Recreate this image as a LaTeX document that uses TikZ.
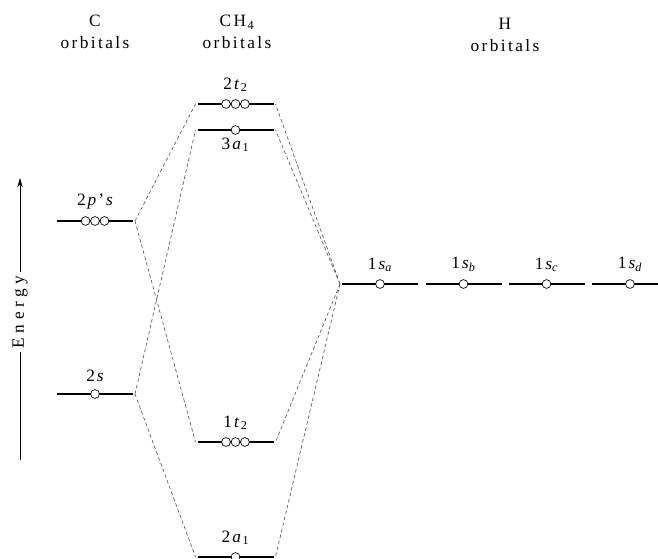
\documentclass[tikz,border=0pt]{standalone}
\usepackage{fontspec}
\setmainfont{Liberation Serif}
\usetikzlibrary{arrows.meta, positioning}
\newcommand{\gap}{\kern1.5pt}
\newcommand{\sub}[1]{\kern1.2pt\textsubscript{#1}}
\tikzset{
  mo level/.style={
    rectangle, fill=black, inner sep=0pt, outer sep=1.5pt,
    minimum width=57pt, minimum height=1.6pt
  },
  mo orb/.style={
    circle, draw=black, fill=white, line width=0.5pt,
    minimum size=6.6pt, inner sep=0pt
  },
  mo link/.style={
    draw=black!70, line width=0.45pt, dash pattern=on 2.6pt off 2pt
  },
  mo label/.style={
    font=\fontsize{13}{15}\selectfont, inner sep=1pt
  },
  mo head/.style={
    font=\fontsize{13}{16.5}\selectfont\addfontfeature{LetterSpace=14},
    align=center, inner sep=0pt
  },
  mo axis/.style={
    font=\fontsize{13}{15}\selectfont\addfontfeature{LetterSpace=26},
    inner sep=3pt
  }
}

\begin{document}
\begin{tikzpicture}[x=0.75pt, y=-0.75pt, node distance=5.5pt]
  \clip (0,0) rectangle (658,559);

  % column heads
  \node (hC) [mo head] at (95,32) {C\\orbitals};
  \node (hCH) [mo head] at (237,32) {CH\sub{4}\\orbitals};
  \node (hH) [mo head] at (505,35) {H\\orbitals};

  % energy axis
  \node (energy) [mo axis, rotate=90] at (20,312) {Energy};
  \coordinate (etop) at (20,178);
  \coordinate (ebot) at (20,460);
  \draw [line width=0.5pt] (ebot) -- (energy.west);
  \draw [line width=0.5pt, -{Stealth[length=7pt, width=4pt]}] (energy.east) -- (etop);

  % C levels
  \node (p2) [mo level] at (95,221) {};
  \node (p2-2) [mo orb] at (p2) {};
  \node (p2-1) [mo orb, left=0pt of p2-2] {};
  \node (p2-3) [mo orb, right=0pt of p2-2] {};
  \node (p2-lab) [mo label, above=of p2] {2\gap\textit{p}\gap'\gap\textit{s}};

  \node (s2) [mo level] at (95,394) {};
  \node (s2-1) [mo orb] at (s2) {};
  \node (s2-lab) [mo label, above=of s2] {2\gap\textit{s}};

  % CH4 levels
  \node (t2b) [mo level] at (235.5,104) {};
  \node (t2b-2) [mo orb] at (t2b) {};
  \node (t2b-1) [mo orb, left=0pt of t2b-2] {};
  \node (t2b-3) [mo orb, right=0pt of t2b-2] {};
  \node (t2b-lab) [mo label, above=of t2b] {2\gap\textit{t}\sub{2}};

  \node (a3) [mo level] at (235.5,130) {};
  \node (a3-1) [mo orb] at (a3) {};
  \node (a3-lab) [mo label, below=2.5pt of a3] {3\gap\textit{a}\sub{1}};

  \node (t1) [mo level] at (235.5,442) {};
  \node (t1-2) [mo orb] at (t1) {};
  \node (t1-1) [mo orb, left=0pt of t1-2] {};
  \node (t1-3) [mo orb, right=0pt of t1-2] {};
  \node (t1-lab) [mo label, above=of t1] {1\gap\textit{t}\sub{2}};

  \node (a2) [mo level] at (235.5,557) {};
  \node (a2-1) [mo orb] at (a2) {};
  \node (a2-lab) [mo label, above=of a2] {2\gap\textit{a}\sub{1}};

  % H levels
  \node (sa) [mo level] at (380,284) {};
  \node (sa-1) [mo orb] at (sa) {};
  \node (sa-lab) [mo label, above=of sa] {1\gap\textit{s}\textsubscript{\textit{a}}};

  \node (sb) [mo level] at (463.5,284) {};
  \node (sb-1) [mo orb] at (sb) {};
  \node (sb-lab) [mo label, above=of sb] {1\gap\textit{s}\textsubscript{\textit{b}}};

  \node (sc) [mo level] at (546.5,284) {};
  \node (sc-1) [mo orb] at (sc) {};
  \node (sc-lab) [mo label, above=of sc] {1\gap\textit{s}\textsubscript{\textit{c}}};

  \node (sd) [mo level] at (630,284) {};
  \node (sd-1) [mo orb] at (sd) {};
  \node (sd-lab) [mo label, above=of sd] {1\gap\textit{s}\textsubscript{\textit{d}}};

  % correlation lines
  \draw [mo link] (p2.east) -- (t2b.west);
  \draw [mo link] (p2.east) -- (t1.west);
  \draw [mo link] (s2.east) -- (a3.west);
  \draw [mo link] (s2.east) -- (a2.west);
  \draw [mo link] (sa.west) -- (t2b.east);
  \draw [mo link] (sa.west) -- (a3.east);
  \draw [mo link] (sa.west) -- (t1.east);
  \draw [mo link] (sa.west) -- (a2.east);
\end{tikzpicture}
\end{document}
